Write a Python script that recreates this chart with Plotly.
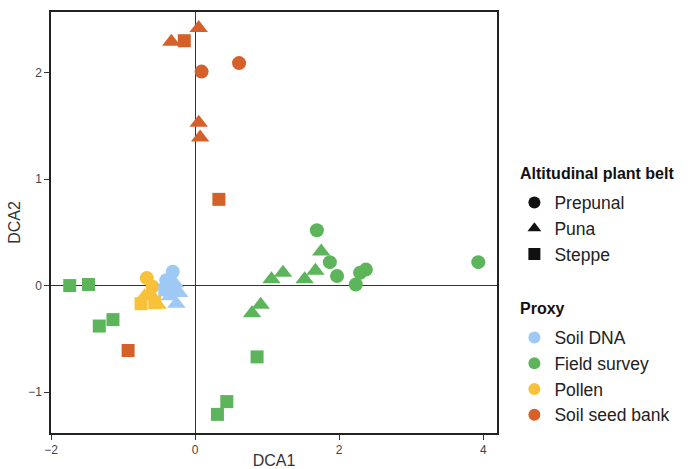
import plotly.graph_objects as go

# ---- data ----
proxies = ["Soil DNA", "Field survey", "Pollen", "Soil seed bank"]
belts = ["Prepunal", "Puna", "Steppe"]
proxy_colors = ["#9ec9f4", "#5cb55a", "#f8c13a", "#d6602a"]

soil_dna_x = [-0.31, -0.40, -0.26, -0.22, -0.35, -0.42, -0.33, -0.28]
soil_dna_y = [0.13, 0.05, -0.17, -0.07, -0.10, -0.04, -0.01, 0.02]
soil_dna_belt = ["Prepunal", "Prepunal", "Puna", "Puna", "Puna", "Steppe", "Prepunal", "Puna"]

field_x = [-1.74, -1.48, -1.33, -1.14, 0.86, 0.31, 0.44,
           0.79, 0.91, 1.06, 1.22, 1.52, 1.67, 1.75,
           1.69, 1.87, 1.97, 2.23, 2.29, 2.37, 3.93]
field_y = [0.00, 0.01, -0.38, -0.32, -0.67, -1.21, -1.09,
           -0.26, -0.18, 0.06, 0.12, 0.06, 0.14, 0.32,
           0.52, 0.22, 0.09, 0.01, 0.12, 0.15, 0.22]
field_belt = ["Steppe"] * 7 + ["Puna"] * 7 + ["Prepunal"] * 7

pollen_x = [-0.67, -0.63, -0.75, -0.56, -0.59, -0.52, -0.70]
pollen_y = [0.07, -0.07, -0.17, -0.16, -0.01, -0.18, -0.10]
pollen_belt = ["Prepunal", "Puna", "Steppe", "Steppe", "Prepunal", "Puna", "Puna"]

seed_x = [-0.33, -0.15, 0.05, 0.09, 0.61, 0.05, 0.07, 0.33, -0.93]
seed_y = [2.29, 2.30, 2.42, 2.01, 2.09, 1.53, 1.39, 0.81, -0.61]
seed_belt = ["Puna", "Steppe", "Puna", "Prepunal", "Prepunal", "Puna", "Puna", "Steppe", "Steppe"]

x_ticks = [-2, 0, 2, 4]
y_ticks = [-1, 0, 1, 2]
belt_title = "Altitudinal plant belt"
proxy_title = "Proxy"

symbol_map = {"Prepunal": "circle", "Puna": "triangle-up", "Steppe": "square"}
size_map = {"Prepunal": 14, "Puna": 16, "Steppe": 13}

series = [
    (soil_dna_x, soil_dna_y, soil_dna_belt),
    (field_x, field_y, field_belt),
    (pollen_x, pollen_y, pollen_belt),
    (seed_x, seed_y, seed_belt),
]

FONT = "Liberation Sans, Arial, sans-serif"
fig = go.Figure()

# draw order: field survey, seed bank, pollen, soil DNA
for idx in [1, 3, 2, 0]:
    xs, ys, bs = series[idx]
    fig.add_trace(go.Scatter(
        x=xs, y=ys, mode="markers", showlegend=False, hoverinfo="x+y",
        marker=dict(color=proxy_colors[idx], opacity=1,
                    symbol=[symbol_map[b] for b in bs],
                    size=[size_map[b] for b in bs],
                    line=dict(width=0)),
    ))

# legend: altitudinal belt
for b in belts:
    fig.add_trace(go.Scatter(
        x=[None], y=[None], mode="markers", name=b, legend="legend",
        marker=dict(color="#111", symbol=symbol_map[b], size=13),
    ))
# legend: proxy
for p, c in zip(proxies, proxy_colors):
    fig.add_trace(go.Scatter(
        x=[None], y=[None], mode="markers", name=p, legend="legend2",
        marker=dict(color=c, symbol="circle", size=14),
    ))

axis_common = dict(
    showgrid=False, showline=True, mirror=True, linecolor="#222", linewidth=1.5,
    zeroline=True, zerolinecolor="#333", zerolinewidth=1.2,
    ticks="outside", ticklen=5, tickcolor="#333", tickwidth=1,
    tickfont=dict(size=12, color="#444", family=FONT),
    automargin=False,
)

legend_common = dict(
    xanchor="left", yanchor="top",
    font=dict(size=17.5, color="#222", family=FONT),
    itemsizing="constant", bgcolor="rgba(0,0,0,0)",
)

title_font = dict(size=16, color="#111", family=FONT, weight="bold")

fig.update_layout(
    width=696, height=469,
    margin=dict(l=51, r=199, t=12, b=36),
    paper_bgcolor="white", plot_bgcolor="white",
    font=dict(family=FONT, color="#222"),
    xaxis=dict(range=[-2, 4.19], tickvals=x_ticks,
               title=dict(text="DCA1", font=dict(size=16, color="#333"), standoff=0),
               **axis_common),
    yaxis=dict(range=[-1.385, 2.57], tickvals=y_ticks,
               title=dict(text="DCA2", font=dict(size=16, color="#333"), standoff=4),
               **axis_common),
    legend=dict(x=1.039, y=0.590, **legend_common),
    legend2=dict(x=1.039, y=0.2695, **legend_common),
    annotations=[
        dict(text=belt_title, xref="paper", yref="paper", x=1.048, y=(433 - 173) / 421,
             xanchor="left", yanchor="middle", showarrow=False, font=title_font),
        dict(text=proxy_title, xref="paper", yref="paper", x=1.048, y=(433 - 308) / 421,
             xanchor="left", yanchor="middle", showarrow=False, font=title_font),
    ],
)

fig.write_html("out.html")
